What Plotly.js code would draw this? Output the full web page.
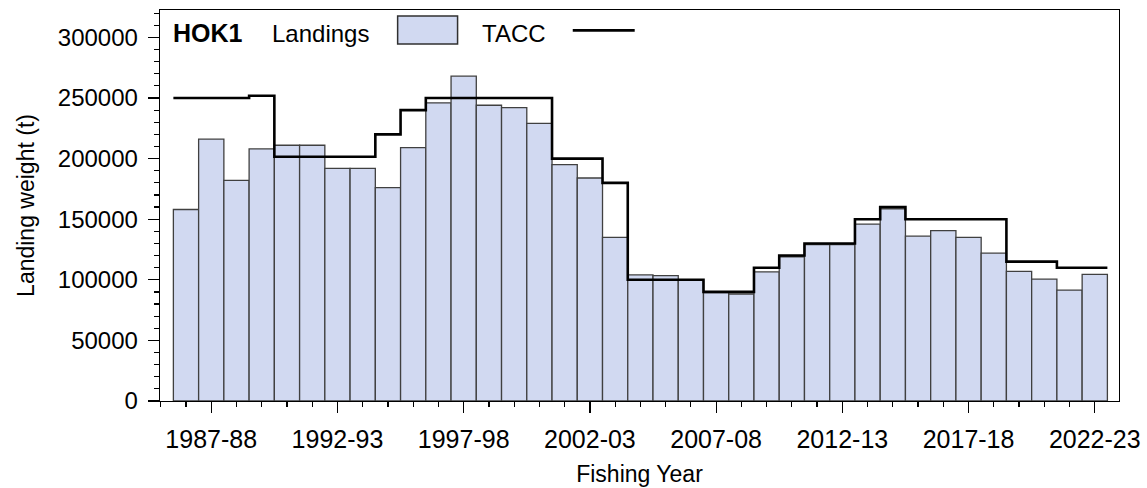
<!DOCTYPE html>
<html>
<head>
<meta charset="utf-8">
<script src="https://cdn.plot.ly/plotly-3.0.1.min.js"></script>
<style>
  html, body { margin: 0; padding: 0; background: #ffffff; }
  #chart { width: 1147px; height: 488px; }
</style>
</head>
<body>
<div id="chart"></div>
<script>
// Fishing years (categories)
const years = [
  "1986-87","1987-88","1988-89","1989-90","1990-91","1991-92","1992-93","1993-94",
  "1994-95","1995-96","1996-97","1997-98","1998-99","1999-00","2000-01","2001-02",
  "2002-03","2003-04","2004-05","2005-06","2006-07","2007-08","2008-09","2009-10",
  "2010-11","2011-12","2012-13","2013-14","2014-15","2015-16","2016-17","2017-18",
  "2018-19","2019-20","2020-21","2021-22","2022-23"
];

// Landings (t)
const landings = [
  158000, 216000, 182000, 208000, 211000, 211000, 192000, 192000,
  176000, 209000, 246000, 268000, 244000, 242000, 229000, 195000,
  184000, 135000, 104000, 103500, 99500, 89500, 88300, 106500,
  119000, 129000, 129000, 146000, 158500, 136000, 140500, 135000,
  122000, 107000, 100500, 91500, 104500
];

// TACC (t)
const tacc = [
  250000, 250000, 250000, 251900, 201500, 201500, 201500, 201500,
  220000, 240000, 250000, 250000, 250000, 250000, 250000, 200000,
  200000, 180000, 100000, 100000, 100000, 90000, 90000, 110000,
  120000, 130000, 130000, 150000, 160000, 150000, 150000, 150000,
  150000, 115000, 115000, 110000, 110000
];

// Labelled ticks
const tickLabels = ["1987-88","1992-93","1997-98","2002-03","2007-08","2012-13","2017-18","2022-23"];

const xIdx = years.map((_, i) => i);
const tickVals = tickLabels.map(l => years.indexOf(l));

// TACC as step line along bar edges
const taccX = years.map((_, i) => i - 0.5).concat([years.length - 0.5]);
const taccY = tacc.concat([tacc[tacc.length - 1]]);

const FONT = "Arial, 'Liberation Sans', sans-serif";

const traces = [
  {
    type: "bar",
    x: xIdx,
    y: landings,
    width: 1,
    marker: { color: "#D1D9F1", line: { color: "#404040", width: 1.3 } },
    name: "Landings",
    hovertext: years,
    showlegend: false
  },
  {
    type: "scatter",
    mode: "lines",
    x: taccX,
    y: taccY,
    line: { shape: "hv", color: "#000000", width: 2.6 },
    name: "TACC",
    showlegend: false
  }
];

const layout = {
  width: 1147,
  height: 488,
  margin: { l: 160, r: 28, t: 10, b: 87 },
  paper_bgcolor: "#ffffff",
  plot_bgcolor: "#ffffff",
  font: { family: FONT, color: "#000000", size: 24 },
  showlegend: false,
  bargap: 0,
  xaxis: {
    range: [-1.03, 36.96],
    tickmode: "array",
    tickvals: tickVals,
    ticktext: tickLabels,
    ticks: "outside",
    ticklen: 11,
    tickwidth: 1.2,
    tickcolor: "#000000",
    ticklabelstandoff: 5,
    tickfont: { family: FONT, size: 25, color: "#000000" },
    minor: { tickmode: "linear", tick0: 0, dtick: 1, ticks: "outside", ticklen: 5, tickwidth: 1.2, tickcolor: "#000000" },
    showline: true,
    linecolor: "#000000",
    linewidth: 1.3,
    mirror: true,
    showgrid: false,
    zeroline: false,
    title: { text: "Fishing Year", font: { family: FONT, size: 23, color: "#000000" }, standoff: 13 }
  },
  yaxis: {
    range: [0, 322600],
    tickmode: "linear",
    tick0: 0,
    dtick: 50000,
    tickformat: "d",
    ticks: "outside",
    ticklen: 11,
    tickwidth: 1.2,
    tickcolor: "#000000",
    ticklabelstandoff: 5,
    tickfont: { family: FONT, size: 24, color: "#000000" },
    minor: { tickmode: "linear", tick0: 0, dtick: 10000, ticks: "outside", ticklen: 5, tickwidth: 1.2, tickcolor: "#000000" },
    showline: true,
    linecolor: "#000000",
    linewidth: 1.3,
    mirror: true,
    showgrid: false,
    zeroline: false,
    title: { text: "Landing weight (t)", font: { family: FONT, size: 23, color: "#000000" }, standoff: 16 }
  },
  annotations: [
    { text: "<b>HOK1</b>", xref: "paper", yref: "paper", x: 0.011, y: 0.941, xanchor: "left", yanchor: "middle", showarrow: false, font: { family: FONT, size: 25, color: "#000000" } },
    { text: "Landings", xref: "paper", yref: "paper", x: 0.115, y: 0.941, xanchor: "left", yanchor: "middle", showarrow: false, font: { family: FONT, size: 24, color: "#000000" } },
    { text: "TACC", xref: "paper", yref: "paper", x: 0.334, y: 0.941, xanchor: "left", yanchor: "middle", showarrow: false, font: { family: FONT, size: 24, color: "#000000" } }
  ],
  shapes: [
    { type: "rect", xref: "paper", yref: "paper", x0: 0.2478, x1: 0.3103, y0: 0.913, y1: 0.9847, fillcolor: "#D1D9F1", line: { color: "#303030", width: 1.5 } },
    { type: "line", xref: "paper", yref: "paper", x0: 0.4304, x1: 0.495, y0: 0.948, y1: 0.948, line: { color: "#000000", width: 2.6 } }
  ]
};

Plotly.newPlot("chart", traces, layout, { displayModeBar: false, staticPlot: true });
</script>
</body>
</html>
